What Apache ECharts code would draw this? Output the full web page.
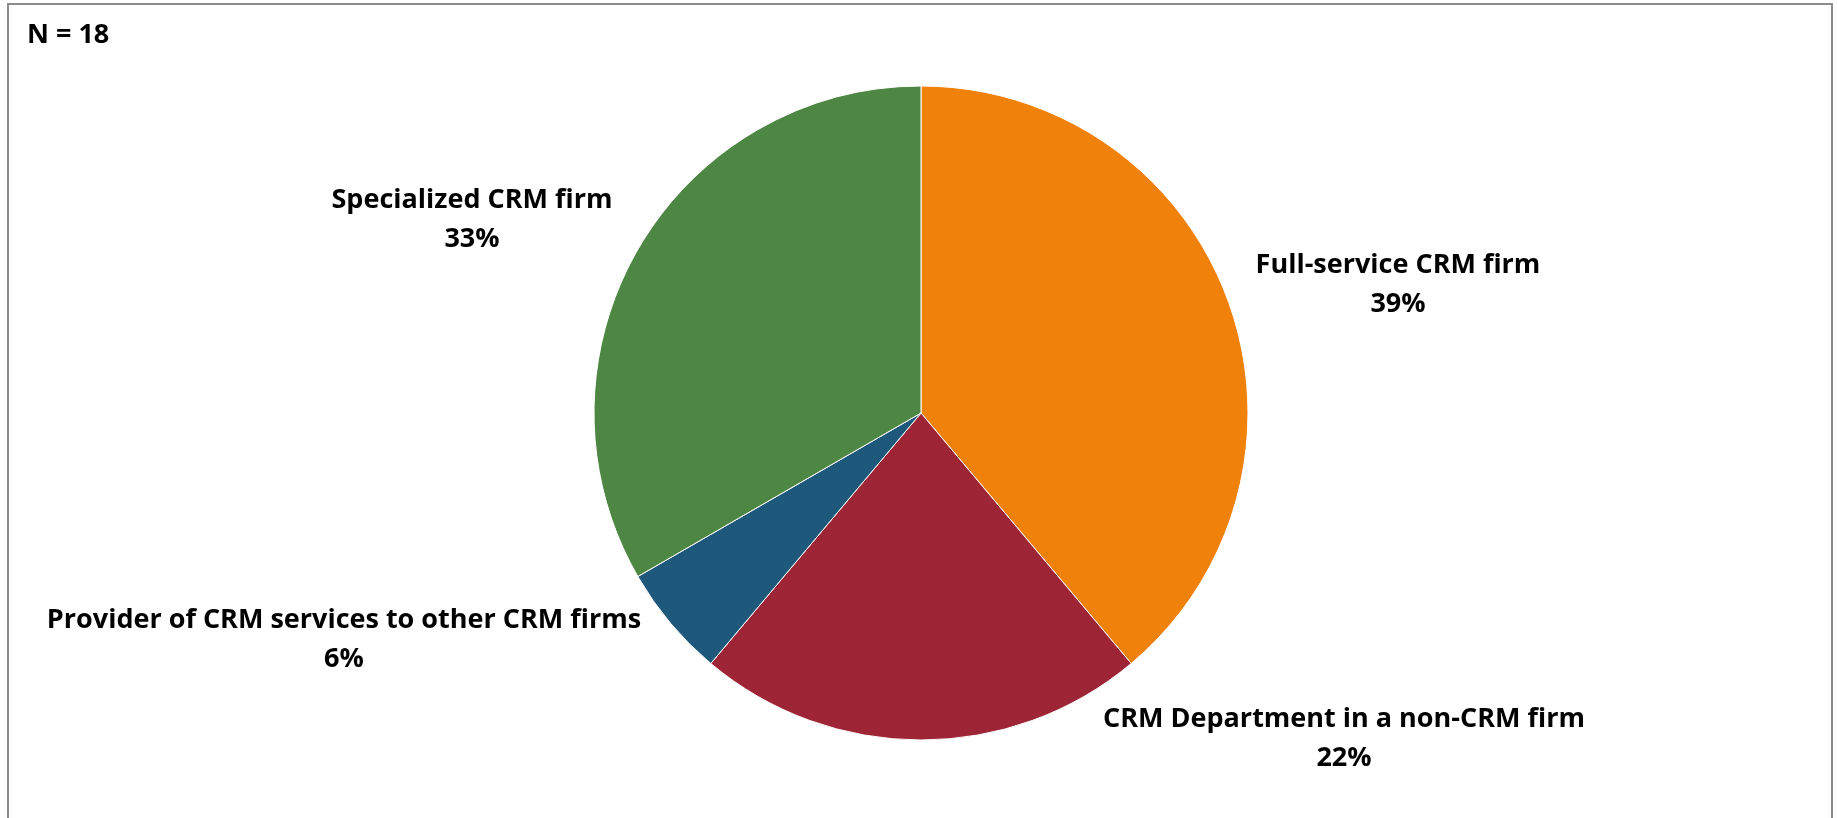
<!DOCTYPE html>
<html>
<head>
<meta charset="utf-8">
<script src="https://cdn.jsdelivr.net/npm/echarts@6/dist/echarts.min.js"></script>
<style>
html,body{margin:0;padding:0;background:#fff;}
#chart{width:1837px;height:818px;}
</style>
</head>
<body>
<div id="chart"></div>
<script>
const categories = ["Full-service CRM firm", "CRM Department in a non-CRM firm", "Provider of CRM services to other CRM firms", "Specialized CRM firm"];
const counts = [7, 4, 1, 6];
const colors = ["#F0810B", "#9E2536", "#1E587B", "#4E8743"];
const sampleNote = "N = 18";

// label anchor positions (centre of label block)
const labelPos = [[1398, 285], [1344, 739], [344, 640], [472, 220]];

const chart = echarts.init(document.getElementById('chart'));
const total = counts.reduce((a, b) => a + b, 0);
chart.setOption({
  animation: false,
  graphic: [
    {type: 'rect', shape: {x: 8, y: 4, width: 1824, height: 840}, style: {fill: 'none', stroke: '#8c8c8c', lineWidth: 2}, z: 0},
    {type: 'text', left: 27, top: 22, style: {text: sampleNote, font: 'bold 27px "Open Sans", sans-serif', fill: '#000'}}
  ],
  series: [{
    type: 'pie',
    center: [921, 413],
    radius: 327,
    startAngle: 90,
    clockwise: true,
    label: {
      show: true,
      position: 'outside',
      formatter: p => p.name + '\n' + Math.round(p.value / total * 100) + '%',
      fontFamily: '"Open Sans", sans-serif',
      fontWeight: 'bold',
      fontSize: 27,
      lineHeight: 39,
      color: '#000',
      align: 'center'
    },
    labelLine: {show: false},
    labelLayout: function (params) {
      const p = labelPos[params.dataIndex];
      return {x: p[0], y: p[1], align: 'center', verticalAlign: 'middle'};
    },
    itemStyle: {borderColor: '#ffffff', borderWidth: 1},
    emphasis: {disabled: true},
    data: categories.map((c, i) => ({name: c, value: counts[i], itemStyle: {color: colors[i]}}))
  }]
});
</script>
</body>
</html>
